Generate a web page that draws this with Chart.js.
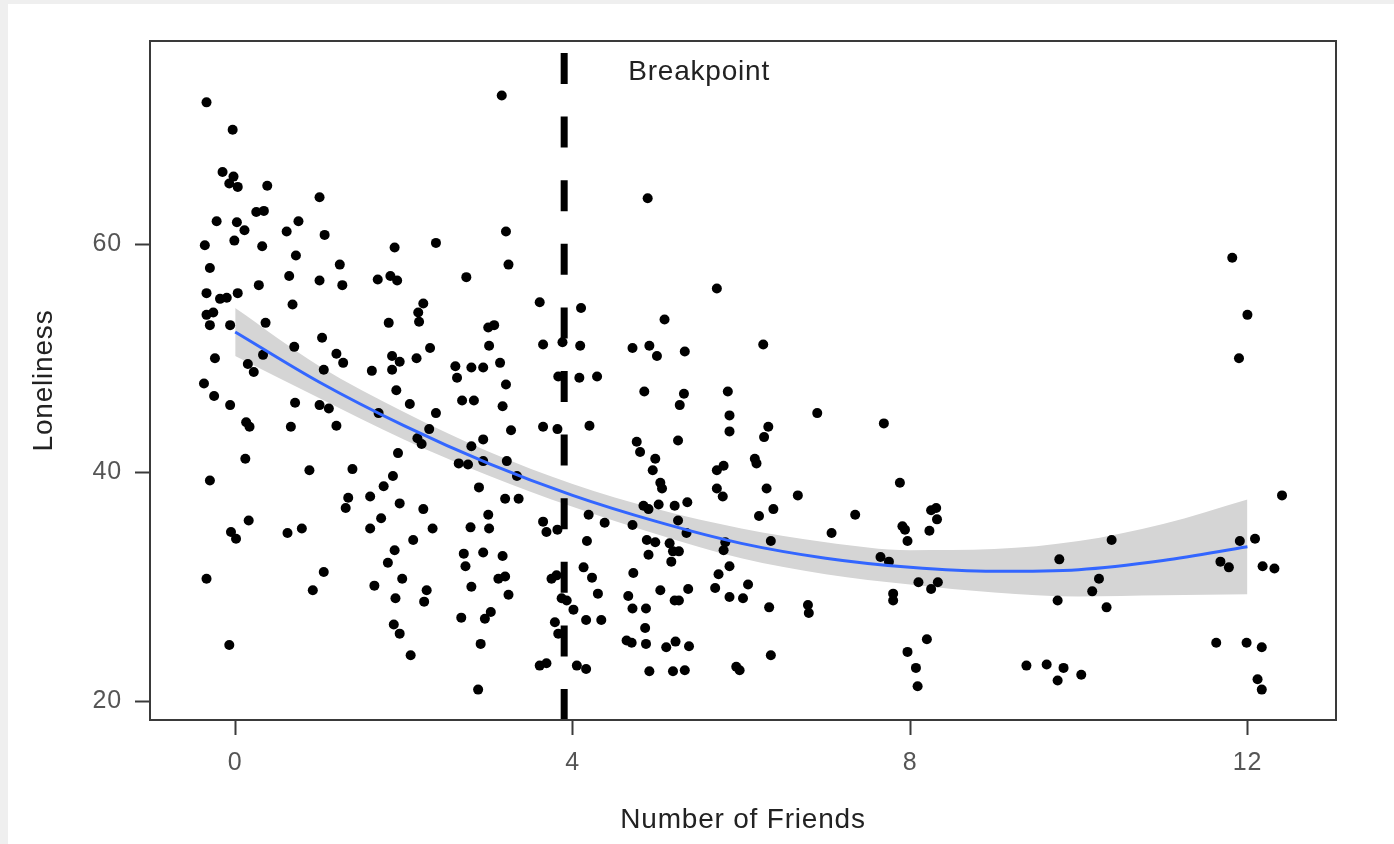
<!DOCTYPE html>
<html>
<head>
<meta charset="utf-8">
<title>Loneliness by Number of Friends</title>
<script src="https://cdn.jsdelivr.net/npm/chart.js@4.4.1/dist/chart.umd.min.js"></script>
<style>
    html, body { margin: 0; padding: 0; background: #efefef; overflow: hidden; }
    #frame {
        position   : absolute;
        left       : 8px;
        top        : 4px;
        width      : 1386px;
        height     : 840px;
        background : #ffffff;
    }
</style>
</head>
<body>
<div id="frame"><canvas id="chart"></canvas></div>
<script>
// observed data, one entry per dot
const FRIENDS = [
    -0.34, -0.03, -0.15, -0.02, -0.07, 0.03, 0.38, 1.00, 0.25, 0.34,
    -0.22, 0.02, 0.11, 0.75, 0.61, 1.06, -0.36, -0.01, 0.32, 0.72,
    1.89, 2.38, -0.30, 1.24, 0.64, 1.00, 1.27, 1.69, 1.84, 1.92,
    0.28, -0.34, -0.18, -0.10, 0.03, 0.68, 2.23, 2.17, 2.18, -0.34,
    -0.26, -0.30, -0.06, 0.36, 1.82, 1.03, 0.70, 2.31, -0.24, 0.33,
    0.15, 0.22, 1.20, 1.28, 1.05, 1.62, 1.86, 1.95, 1.86, 2.15,
    -0.37,
    -0.25, -0.06, 0.71, 1.00, 1.11, 1.91, 2.07, 2.38, 1.70, 0.13,
    0.17, 0.66, 1.20, 2.30, 2.16, 2.21, 0.12, 1.93, -0.30, 0.88,
    1.39, 1.87, 1.76, 1.34, 1.31, 1.60, 1.95, 2.23, 1.73, 1.60,
    2.34, 0.16, -0.05, 0.01, 0.62, 0.79, 2.11, 1.89, 1.81, -0.34,
    1.05, 0.92, 1.65, 1.98, 1.90, 2.27, 2.24, 1.88, 1.95, -0.07,
    2.08,
    3.16, 4.89, 3.21, 3.24, 2.74, 5.71, 3.61, 4.10, 5.09, 3.00,
    3.07, 3.01, 3.65, 3.88, 4.09, 4.71, 4.91, 5.00, 5.33, 2.61,
    2.63, 2.80, 2.94, 3.14,
    3.21, 2.69, 2.83, 3.17, 3.83, 4.08, 4.29, 4.85, 5.32, 5.27,
    5.84, 5.86, 5.86, 3.65, 3.82, 4.20, 3.27, 2.94, 2.80, 4.76,
    4.80, 5.25, 2.65, 2.76, 2.94, 3.22, 4.98, 4.95, 3.34, 2.89,
    5.04, 5.06, 3.20, 3.36, 5.71, 5.79, 5.71, 5.78, 4.84, 4.90,
    5.02, 5.21, 5.36, 3.00, 2.79, 3.01, 3.65, 3.69, 3.82, 4.19,
    4.38, 4.71, 5.25, 5.35, 4.17, 4.88, 4.98, 5.15, 5.19, 5.26,
    5.17, 5.81, 5.79, 2.71, 2.73, 2.94, 3.17, 4.90, 5.86, 4.72,
    4.13, 4.23, 3.75, 3.81, 3.87, 3.93, 4.01, 4.30, 3.12, 3.20,
    2.80, 3.24, 4.66, 5.04, 5.21, 5.26, 5.37, 5.69, 5.73, 5.86,
    4.71, 4.87, 2.68, 2.96, 3.03, 3.79, 3.83, 4.16, 4.34, 4.86,
    4.64, 4.70, 4.87, 5.11, 5.22, 5.38, 2.91, 3.61, 3.69, 4.05,
    4.16, 4.91, 5.19, 5.33, 2.88,
    6.26,
    6.90, 7.69, 6.32, 6.27, 6.16, 6.18, 7.88, 6.30, 6.67, 6.21,
    6.38, 7.35, 8.25, 8.31, 8.32, 7.91, 7.94, 7.97, 8.23, 7.07,
    6.35, 7.65, 7.75, 6.08, 6.02, 6.33, 6.79, 6.80, 7.80, 7.80,
    8.10, 8.25, 8.33, 8.20, 7.97, 8.07, 8.09, 6.35, 5.94, 5.98,
    11.82, 12.00, 11.90, 12.41, 10.39, 11.91, 12.09, 9.77, 11.68, 11.78,
    12.18, 12.32, 10.24, 10.16, 9.75, 10.33, 11.63, 11.99, 12.17, 9.38,
    9.62, 9.82, 9.75, 10.03, 12.12, 12.17,
];

const LONELINESS = [
    72.4, 70.0, 66.3, 65.9, 65.3, 65.0, 65.1, 64.1, 62.8, 62.9,
    62.0, 61.9, 61.2, 62.0, 61.1, 60.8, 59.9, 60.3, 59.8, 59.0,
    59.7, 60.1, 57.9, 58.2, 57.2, 56.8, 56.4, 56.9, 57.2, 56.8,
    56.4, 55.7, 55.2, 55.3, 55.7, 54.7, 54.8, 54.0, 53.2, 53.8,
    54.0, 52.9, 52.9, 53.1, 53.1, 51.8, 51.0, 50.9, 50.0, 50.3,
    49.5, 48.8, 50.4, 49.6, 49.0, 48.9, 50.2, 49.7, 49.0, 50.0,
    47.8,
    46.7, 45.9, 46.1, 45.9, 45.6, 47.2, 46.0, 45.2, 45.2, 44.4,
    44.0, 44.0, 44.1, 43.8, 43.0, 42.5, 41.2, 41.7, 39.3, 40.2,
    40.3, 39.7, 38.8, 37.8, 36.9, 37.9, 37.3, 36.8, 36.0, 35.1,
    35.1, 35.8, 34.8, 34.2, 34.7, 35.1, 34.1, 33.2, 32.1, 30.7,
    31.3, 29.7, 30.1, 30.7, 29.0, 29.7, 28.7, 26.7, 25.9, 24.9,
    24.0,
    73.0, 64.0, 61.1, 58.2, 57.1, 56.1, 54.9, 54.4, 53.4, 52.7,
    52.9, 51.1, 51.2, 51.4, 51.1, 50.9, 51.1, 50.2, 50.6, 49.3,
    48.3, 49.2, 49.2, 49.6,
    47.7, 46.3, 46.3, 45.8, 48.4, 48.3, 48.4, 47.1, 46.9, 45.9,
    47.1, 45.0, 43.6, 44.0, 43.8, 44.1, 43.7, 42.9, 42.3, 42.7,
    41.8, 42.8, 40.8, 40.7, 41.0, 41.0, 41.2, 40.2, 39.7, 38.7,
    39.1, 38.6, 37.7, 37.7, 40.2, 40.6, 38.6, 37.9, 37.1, 36.8,
    37.2, 37.1, 37.4, 36.3, 35.2, 35.1, 35.7, 34.8, 35.0, 36.3,
    35.6, 35.4, 35.8, 34.7, 34.0, 34.1, 33.9, 33.8, 33.1, 33.1,
    32.2, 33.9, 33.2, 32.9, 31.8, 33.0, 32.7, 32.8, 31.8, 31.2,
    31.7, 30.8, 30.7, 31.0, 29.0, 28.8, 28.0, 29.4, 30.7, 30.9,
    30.0, 29.3, 29.2, 29.7, 28.8, 28.8, 29.8, 29.9, 31.1, 29.1,
    28.1, 28.1, 27.3, 27.2, 27.8, 26.9, 25.9, 27.1, 27.1, 26.4,
    25.3, 25.1, 25.0, 24.7, 25.2, 24.8, 25.0, 23.1, 23.3, 23.1,
    22.8, 22.6, 22.6, 22.7, 21.0,
    51.2,
    45.2, 44.3, 44.0, 43.1, 41.2, 40.8, 39.1, 38.6, 38.0, 36.2,
    36.8, 36.3, 36.7, 36.9, 35.9, 35.3, 35.0, 34.0, 34.9, 34.7,
    34.0, 32.6, 32.2, 30.2, 29.0, 28.2, 28.4, 27.7, 29.4, 28.8,
    30.4, 29.8, 30.4, 25.4, 24.3, 22.9, 21.3, 24.0, 23.0, 22.7,
    58.8, 53.8, 50.0, 38.0, 34.1, 34.0, 34.2, 32.4, 32.2, 31.7,
    31.8, 31.6, 30.7, 29.6, 28.8, 28.2, 25.1, 25.1, 24.7, 23.1,
    23.2, 22.9, 21.8, 22.3, 21.9, 21.0,
];

const FIT_X   = [0, 1, 2, 3, 4, 5, 6, 7, 8, 9, 10, 11, 12];
const FIT_Y   = [52.3, 47.9, 44.1, 40.8, 38.0, 35.7, 33.8, 32.5, 31.7, 31.35, 31.5, 32.3, 33.5];
const BAND_HI = [54.4, 49.3, 45.3, 41.85, 39.0, 36.8, 35.1, 33.9, 33.2, 33.3, 34.0, 35.5, 37.65];
const BAND_LO = [50.2, 46.5, 42.9, 39.75, 37.0, 34.6, 32.5, 31.1, 30.2, 29.5, 29.15, 29.25, 29.35];

const BREAKPOINT     = 3.9;
const BREAK_LABEL    = 'Breakpoint';
const BREAK_LABEL_AT = { x: 5.5, y: 75 };

const X_TICKS = [0, 4, 8, 12];
const Y_TICKS = [20, 40, 60];
const X_RANGE = [-1.01, 13.05];
const Y_RANGE = [18.34, 77.77];

const FONT = '"Liberation Sans", Arial, Helvetica, sans-serif';


const toXY = (xs, ys) => xs.map((x, i) => ({ x, y: ys[i] }));

const framePlugin = {
    id : 'frame',

    beforeDraw(chart) {
        // the reference lettering runs a little wider than Arial
        chart.ctx.letterSpacing = '0.8px';
    },

    afterDatasetsDraw(chart) {
        const { ctx, chartArea: a, scales: { x, y } } = chart;
        ctx.save();
        ctx.strokeStyle = '#3a3a3a';
        ctx.lineWidth   = 2;
        ctx.strokeRect(a.left, a.top, a.right - a.left, a.bottom - a.top);

        ctx.fillStyle    = '#222222';
        ctx.font         = `28px ${FONT}`;
        ctx.textAlign    = 'center';
        ctx.textBaseline = 'middle';
        ctx.fillText(BREAK_LABEL, x.getPixelForValue(BREAK_LABEL_AT.x), y.getPixelForValue(BREAK_LABEL_AT.y));
        ctx.restore();
    },
};

const tickGrid = {
    drawOnChartArea : false,
    drawTicks       : true,
    tickLength      : 15,
    tickWidth       : 2,
    tickColor       : '#3a3a3a',
};

const tickStyle = {
    color    : '#555555',
    font     : { family: FONT, size: 25 },
    padding  : 13,
    autoSkip : false,
    maxRotation : 0,
    callback : (v) => String(v),
};

function init() {
    const ctx = document.getElementById('chart').getContext('2d');

    new Chart(ctx, {
        type : 'scatter',
        data : {
            datasets : [
                {
                    type        : 'line',
                    data        : toXY(FIT_X, BAND_HI),
                    borderWidth : 0,
                    borderColor : 'rgba(0,0,0,0)',
                    backgroundColor : '#d5d5d5',
                    fill        : '+1',
                    pointRadius : 0,
                    cubicInterpolationMode : 'monotone',
                    order       : 3,
                },
                {
                    type        : 'line',
                    data        : toXY(FIT_X, BAND_LO),
                    borderWidth : 0,
                    borderColor : 'rgba(0,0,0,0)',
                    fill        : false,
                    pointRadius : 0,
                    cubicInterpolationMode : 'monotone',
                    order       : 3,
                },
                {
                    data                 : toXY(FRIENDS, LONELINESS),
                    pointRadius          : 5,
                    pointBackgroundColor : '#000000',
                    pointBorderWidth     : 0,
                    order                : 2,
                },
                {
                    type        : 'line',
                    data        : toXY(FIT_X, FIT_Y),
                    borderColor : '#3366ff',
                    borderWidth : 3,
                    fill        : false,
                    pointRadius : 0,
                    cubicInterpolationMode : 'monotone',
                    order       : 1,
                },
                {
                    type        : 'line',
                    data        : [{ x: BREAKPOINT, y: Y_RANGE[0] }, { x: BREAKPOINT, y: Y_RANGE[1] }],
                    borderColor : '#000000',
                    borderWidth : 7,
                    borderDash  : [31, 32.6],
                    borderCapStyle : 'butt',
                    fill        : false,
                    pointRadius : 0,
                    order       : 0,
                },
            ],
        },
        options : {
            responsive          : true,
            maintainAspectRatio : false,
            animation           : false,
            events              : [],
            layout  : { padding: { top: 37, right: 58, bottom: 0, left: 0 } },
            plugins : { legend: { display: false }, tooltip: { enabled: false } },

            scales : {
                x : {
                    type   : 'linear',
                    min    : X_RANGE[0],
                    max    : X_RANGE[1],
                    afterBuildTicks : (axis) => { axis.ticks = X_TICKS.map((value) => ({ value })); },
                    afterFit        : (axis) => { axis.height = 124; },
                    grid   : tickGrid,
                    border : { display: false },
                    ticks  : tickStyle,
                    title  : {
                        display : true,
                        text    : 'Number of Friends',
                        color   : '#222222',
                        font    : { family: FONT, size: 28 },
                        padding : { top: 0, bottom: 7 },
                    },
                },
                y : {
                    type   : 'linear',
                    min    : Y_RANGE[0],
                    max    : Y_RANGE[1],
                    afterBuildTicks : (axis) => { axis.ticks = Y_TICKS.map((value) => ({ value })); },
                    afterFit        : (axis) => { axis.width = 142; },
                    grid   : tickGrid,
                    border : { display: false },
                    ticks  : tickStyle,
                    title  : {
                        display : true,
                        text    : 'Loneliness',
                        color   : '#222222',
                        font    : { family: FONT, size: 28 },
                        padding : { top: 19, bottom: 0 },
                    },
                },
            },
        },
        plugins : [framePlugin],
    });
}

document.addEventListener('DOMContentLoaded', init);
</script>
</body>
</html>
